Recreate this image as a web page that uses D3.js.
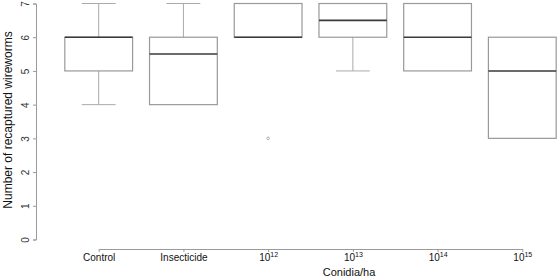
<!DOCTYPE html>
<html>
<head>
<meta charset="utf-8">
<script src="https://cdn.jsdelivr.net/npm/d3@7"></script>
<style>
  body { margin: 0; background: #fff; }
  text { font-family: "Liberation Sans", Arial, sans-serif; }
</style>
</head>
<body>
<div id="chart"></div>
<script>
// treatments and their exponents (null = plain label)
var categories = ["Control", "Insecticide", "10^12", "10^13", "10^14", "10^15"];
var labelBase = ["Control", "Insecticide", "10", "10", "10", "10"];
var labelSup = [null, null, "12", "13", "14", "15"];

// box stats
var lowerWhisker = [4, 4, 6, 5, 5, 3];
var q1 = [5, 4, 6, 6, 5, 3];
var median = [6, 5.5, 6, 6.5, 6, 5];
var q3 = [6, 6, 7, 7, 7, 6];
var upperWhisker = [7, 7, 7, 7, 7, 6];
var outliers = [[], [], [3], [], [], []];

var yTicks = [0, 1, 2, 3, 4, 5, 6, 7];

var width = 557, height = 278;

var svg = d3.select("#chart")
  .append("svg")
  .attr("width", width)
  .attr("height", height);

var x = d3.scalePoint()
  .domain(categories)
  .range([98.7, 522.3]);

var y = d3.scaleLinear()
  .domain([0, 7])
  .range([239.5, 3.5]);

var step = x.step();
var boxHalf = step * 0.4;
var capHalf = boxHalf / 2;

var data = categories.map(function(c, i) {
  return {
    key: c, lo: lowerWhisker[i], q1: q1[i], med: median[i],
    q3: q3[i], hi: upperWhisker[i], out: outliers[i]
  };
});

var axisCol = "#9a9a9a";

// y axis
var yAxis = svg.append("g")
  .attr("transform", "translate(36,0)")
  .call(d3.axisLeft(y).tickValues(yTicks).tickSize(3).tickPadding(5));
yAxis.select(".domain").attr("stroke", axisCol);
yAxis.selectAll(".tick line").attr("stroke", axisCol);
yAxis.selectAll(".tick text").remove();
yAxis.selectAll(".tick").append("text")
  .attr("transform", "translate(-7.5,0) rotate(-90)")
  .attr("text-anchor", "middle")
  .attr("fill", "#333")
  .style("font-size", "10px")
  .text(function(d) { return d; });

// x axis
var xAxis = svg.append("g")
  .attr("transform", "translate(0,249)")
  .call(d3.axisBottom(x).tickSize(3).tickSizeOuter(0));
xAxis.select(".domain").attr("stroke", axisCol);
xAxis.selectAll(".tick line").attr("stroke", axisCol);
xAxis.selectAll(".tick text").remove();
var lbl = xAxis.selectAll(".tick").append("text")
  .attr("y", 11.5)
  .attr("text-anchor", "middle")
  .attr("fill", "#111")
  .style("font-size", "10px");
lbl.append("tspan")
  .text(function(d, i) { return labelBase[i]; });
lbl.append("tspan")
  .attr("dy", -4)
  .style("font-size", "7px")
  .text(function(d, i) { return labelSup[i] || ""; });

// whiskers
var g = svg.selectAll(".bx")
  .data(data)
  .enter()
  .append("g")
  .attr("class", "bx");

g.filter(function(d) { return d.hi > d.q3; })
  .append("line")
  .attr("x1", function(d) { return x(d.key); })
  .attr("x2", function(d) { return x(d.key); })
  .attr("y1", function(d) { return y(d.q3); })
  .attr("y2", function(d) { return y(d.hi); })
  .attr("stroke", "#aaa");
g.filter(function(d) { return d.hi > d.q3; })
  .append("line")
  .attr("x1", function(d) { return x(d.key) - capHalf; })
  .attr("x2", function(d) { return x(d.key) + capHalf; })
  .attr("y1", function(d) { return y(d.hi); })
  .attr("y2", function(d) { return y(d.hi); })
  .attr("stroke", "#aaa");
g.filter(function(d) { return d.lo < d.q1; })
  .append("line")
  .attr("x1", function(d) { return x(d.key); })
  .attr("x2", function(d) { return x(d.key); })
  .attr("y1", function(d) { return y(d.q1); })
  .attr("y2", function(d) { return y(d.lo); })
  .attr("stroke", "#aaa");
g.filter(function(d) { return d.lo < d.q1; })
  .append("line")
  .attr("x1", function(d) { return x(d.key) - capHalf; })
  .attr("x2", function(d) { return x(d.key) + capHalf; })
  .attr("y1", function(d) { return y(d.lo); })
  .attr("y2", function(d) { return y(d.lo); })
  .attr("stroke", "#aaa");

// boxes
g.append("rect")
  .attr("x", function(d) { return x(d.key) - boxHalf; })
  .attr("y", function(d) { return y(d.q3); })
  .attr("width", boxHalf * 2)
  .attr("height", function(d) { return y(d.q1) - y(d.q3); })
  .attr("fill", "none")
  .attr("stroke", "#999")
  .attr("stroke-width", 1.2);

// medians
g.append("line")
  .attr("x1", function(d) { return x(d.key) - boxHalf; })
  .attr("x2", function(d) { return x(d.key) + boxHalf; })
  .attr("y1", function(d) { return y(d.med); })
  .attr("y2", function(d) { return y(d.med); })
  .attr("stroke", "#3a3a3a")
  .attr("stroke-width", 1.6);

// outliers
g.selectAll(".out")
  .data(function(d) { return d.out.map(function(v) { return { key: d.key, v: v }; }); })
  .enter()
  .append("circle")
  .attr("cx", function(d) { return x(d.key); })
  .attr("cy", function(d) { return y(d.v); })
  .attr("r", 1.3)
  .attr("fill", "none")
  .attr("stroke", "#999")
  .attr("stroke-width", 0.8);

// axis titles
svg.append("text")
  .attr("x", 349)
  .attr("y", 276)
  .attr("text-anchor", "middle")
  .attr("fill", "#111")
  .style("font-size", "11px")
  .text("Conidia/ha");

svg.append("text")
  .attr("transform", "translate(12,120) rotate(-90)")
  .attr("text-anchor", "middle")
  .attr("fill", "#111")
  .style("font-size", "12px")
  .text("Number of recaptured wireworms");
</script>
</body>
</html>
